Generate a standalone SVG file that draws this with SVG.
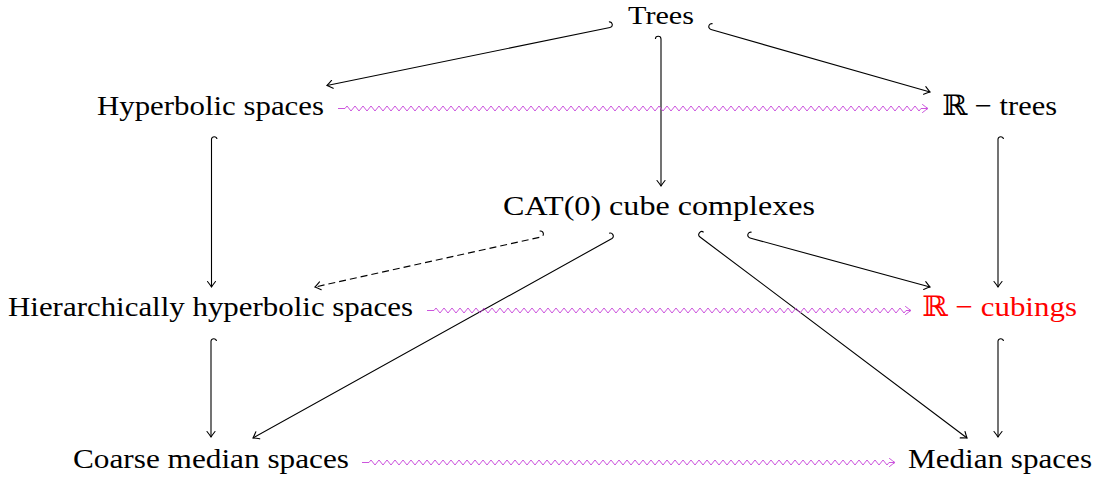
<svg xmlns="http://www.w3.org/2000/svg" width="1097" height="483" viewBox="0 0 1097 483">
<style>
.lbl{font-family:"Liberation Serif","Times New Roman",serif;font-size:28px;fill:#000}
.red{fill:#ff0000}
.bb{font-family:"DejaVu Serif","DejaVu Sans",serif}
.arr{fill:none;stroke:#000;stroke-width:1.1;marker-end:url(#hd)}
.dash{stroke-dasharray:7 4}
.sq{fill:none;stroke:#cc55dd;stroke-width:1;stroke-linejoin:round;marker-end:url(#hm)}
</style>
<defs>
<marker id="hd" markerUnits="userSpaceOnUse" markerWidth="14" markerHeight="14" refX="0" refY="0" orient="auto" viewBox="-8 -7 10 14" overflow="visible">
<path d="M-5.5,-4 Q-1.5,-0.9 0,0 Q-1.5,0.9 -5.5,4" fill="none" stroke="#000" stroke-width="1.1" stroke-linecap="round"/>
</marker>
<marker id="hm" markerUnits="userSpaceOnUse" markerWidth="14" markerHeight="14" refX="0" refY="0" orient="auto" viewBox="-8 -7 10 14" overflow="visible">
<path d="M-5.5,-4 Q-1.5,-0.9 0,0 Q-1.5,0.9 -5.5,4" fill="none" stroke="#cc55dd" stroke-width="1" stroke-linecap="round"/>
</marker>
</defs>
<g id="connectors">
<path class="arr" d="M608.9,22 A2.8,2.8 0 0 1 610,27.5 L327,85.5"/>
<path class="arr" d="M712.6,23.7 A3,3 0 0 0 711,29.5 L930,92"/>
<path class="arr" d="M655.4,39 A2.8,2.8 0 0 1 661,39 L661,186"/>
<path class="arr" d="M217,139 A2.8,2.8 0 0 0 211.5,139 L211.5,287"/>
<path class="arr" d="M1003.5,139 A2.8,2.8 0 0 0 998,139 L998,287"/>
<path class="arr" d="M216.5,341 A2.8,2.8 0 0 0 211,341 L211,437"/>
<path class="arr" d="M1003.5,341 A2.8,2.8 0 0 0 998,341 L998,437"/>
<path class="arr dash" d="M539.7,231.1 A3,3 0 0 1 541,237 L315,287"/>
<path class="arr" d="M609.1,233.3 A3,3 0 0 1 612,238.5 L253,438"/>
<path class="arr" d="M703.6,232.2 A3,3 0 0 0 700,237 L967,438"/>
<path class="arr" d="M751.6,232.2 A3,3 0 0 0 750,238 L930,287"/>
<path class="sq" d="M338,108.5 H345 l2,-2.5
4,5 4,-5 4,5 4,-5 4,5 4,-5 4,5 4,-5 4,5 4,-5 4,5 4,-5 4,5 4,-5 4,5 4,-5 4,5 4,-5 4,5 4,-5
4,5 4,-5 4,5 4,-5 4,5 4,-5 4,5 4,-5 4,5 4,-5 4,5 4,-5 4,5 4,-5 4,5 4,-5 4,5 4,-5 4,5 4,-5
4,5 4,-5 4,5 4,-5 4,5 4,-5 4,5 4,-5 4,5 4,-5 4,5 4,-5 4,5 4,-5 4,5 4,-5 4,5 4,-5 4,5 4,-5
4,5 4,-5 4,5 4,-5 4,5 4,-5 4,5 4,-5 4,5 4,-5 4,5 4,-5 4,5 4,-5 4,5 4,-5 4,5 4,-5 4,5 4,-5
4,5 4,-5 4,5 4,-5 4,5 4,-5 4,5 4,-5 4,5 4,-5 4,5 4,-5 4,5 4,-5 4,5 4,-5 4,5 4,-5 4,5 4,-5
4,5 4,-5 4,5 4,-5 4,5 4,-5 4,5 4,-5 4,5 4,-5 4,5 4,-5 4,5 4,-5 4,5 4,-5 4,5 4,-5 4,5 4,-5
4,5 4,-5 4,5 4,-5 4,5 4,-5 4,5 4,-5 4,5 4,-5 4,5 4,-5 4,5 4,-5 4,5 4,-5 4,5 4,-5 4,5 4,-5
4,5 4,-5
4,5 2,-2.5 H928"/>
<path class="sq" d="M427,310.5 H434 l2,-2.5
4,5 4,-5 4,5 4,-5 4,5 4,-5 4,5 4,-5 4,5 4,-5 4,5 4,-5 4,5 4,-5 4,5 4,-5 4,5 4,-5 4,5 4,-5
4,5 4,-5 4,5 4,-5 4,5 4,-5 4,5 4,-5 4,5 4,-5 4,5 4,-5 4,5 4,-5 4,5 4,-5 4,5 4,-5 4,5 4,-5
4,5 4,-5 4,5 4,-5 4,5 4,-5 4,5 4,-5 4,5 4,-5 4,5 4,-5 4,5 4,-5 4,5 4,-5 4,5 4,-5 4,5 4,-5
4,5 4,-5 4,5 4,-5 4,5 4,-5 4,5 4,-5 4,5 4,-5 4,5 4,-5 4,5 4,-5 4,5 4,-5 4,5 4,-5 4,5 4,-5
4,5 4,-5 4,5 4,-5 4,5 4,-5 4,5 4,-5 4,5 4,-5 4,5 4,-5 4,5 4,-5 4,5 4,-5 4,5 4,-5 4,5 4,-5
4,5 4,-5 4,5 4,-5 4,5 4,-5 4,5 4,-5 4,5 4,-5 4,5 4,-5 4,5 4,-5 4,5 4,-5
4,5 2,-2.5 H911"/>
<path class="sq" d="M362,462.5 H369 l2,-2.5
4,5 4,-5 4,5 4,-5 4,5 4,-5 4,5 4,-5 4,5 4,-5 4,5 4,-5 4,5 4,-5 4,5 4,-5 4,5 4,-5 4,5 4,-5
4,5 4,-5 4,5 4,-5 4,5 4,-5 4,5 4,-5 4,5 4,-5 4,5 4,-5 4,5 4,-5 4,5 4,-5 4,5 4,-5 4,5 4,-5
4,5 4,-5 4,5 4,-5 4,5 4,-5 4,5 4,-5 4,5 4,-5 4,5 4,-5 4,5 4,-5 4,5 4,-5 4,5 4,-5 4,5 4,-5
4,5 4,-5 4,5 4,-5 4,5 4,-5 4,5 4,-5 4,5 4,-5 4,5 4,-5 4,5 4,-5 4,5 4,-5 4,5 4,-5 4,5 4,-5
4,5 4,-5 4,5 4,-5 4,5 4,-5 4,5 4,-5 4,5 4,-5 4,5 4,-5 4,5 4,-5 4,5 4,-5 4,5 4,-5 4,5 4,-5
4,5 4,-5 4,5 4,-5 4,5 4,-5 4,5 4,-5 4,5 4,-5 4,5 4,-5 4,5 4,-5 4,5 4,-5 4,5 4,-5 4,5 4,-5
4,5 4,-5 4,5 4,-5 4,5 4,-5 4,5 4,-5
4,5 2,-2.5 H895"/>
</g>
<g id="trees"><text class="lbl" x="628" y="24" font-size="26" style="font-size:26px" textLength="66" lengthAdjust="spacingAndGlyphs">Trees</text></g>
<g id="hyperbolic"><text class="lbl" x="97" y="115" textLength="227" lengthAdjust="spacingAndGlyphs">Hyperbolic spaces</text></g>
<g id="rtrees"><text class="lbl" x="942" y="115" textLength="115" lengthAdjust="spacingAndGlyphs"><tspan class="bb">ℝ</tspan> − trees</text></g>
<g id="cat0"><text class="lbl" x="503" y="215" textLength="312" lengthAdjust="spacingAndGlyphs">CAT(0) cube complexes</text></g>
<g id="hhs"><text class="lbl" x="8" y="316" textLength="405" lengthAdjust="spacingAndGlyphs">Hierarchically hyperbolic spaces</text></g>
<g id="rcubings"><text class="lbl red" x="922" y="316" textLength="155" lengthAdjust="spacingAndGlyphs"><tspan class="bb">ℝ</tspan> − cubings</text></g>
<g id="coarse"><text class="lbl" x="73" y="468" textLength="276" lengthAdjust="spacingAndGlyphs">Coarse median spaces</text></g>
<g id="median"><text class="lbl" x="908" y="468" textLength="184" lengthAdjust="spacingAndGlyphs">Median spaces</text></g>
</svg>
